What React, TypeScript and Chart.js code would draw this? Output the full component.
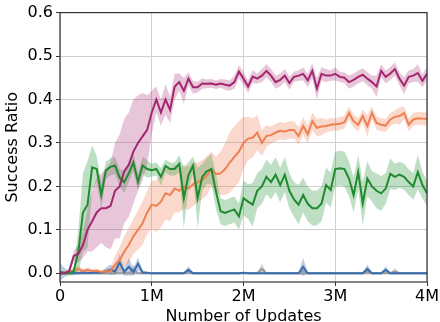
import React, { useEffect, useRef } from "react";
import { Chart, registerables } from "chart.js";

Chart.register(...registerables);

// x positions: number of updates (millions)
const updatesM = [
  0, 0.05, 0.1, 0.15, 0.2, 0.25, 0.3, 0.35, 0.4, 0.45,
  0.5, 0.55, 0.6, 0.65, 0.7, 0.75, 0.8, 0.85, 0.9, 0.95,
  1, 1.05, 1.1, 1.15, 1.2, 1.25, 1.3, 1.35, 1.4, 1.45,
  1.5, 1.55, 1.6, 1.65, 1.7, 1.75, 1.8, 1.85, 1.9, 1.95,
  2, 2.05, 2.1, 2.15, 2.2, 2.25, 2.3, 2.35, 2.4, 2.45,
  2.5, 2.55, 2.6, 2.65, 2.7, 2.75, 2.8, 2.85, 2.9, 2.95,
  3, 3.05, 3.1, 3.15, 3.2, 3.25, 3.3, 3.35, 3.4, 3.45,
  3.5, 3.55, 3.6, 3.65, 3.7, 3.75, 3.8, 3.85, 3.9, 3.95,
  4,
];

const magentaMean = [
  0, 0, 0.005, 0.04, 0.045, 0.065, 0.1, 0.12, 0.14, 0.15,
  0.15, 0.155, 0.19, 0.2, 0.235, 0.25, 0.28, 0.3, 0.315, 0.33,
  0.37, 0.4, 0.37, 0.4, 0.376, 0.43, 0.44, 0.42, 0.448, 0.428,
  0.428, 0.437, 0.436, 0.437, 0.434, 0.437, 0.434, 0.432, 0.44, 0.464,
  0.448, 0.43, 0.453, 0.448, 0.455, 0.466, 0.455, 0.44, 0.445, 0.455,
  0.438, 0.452, 0.455, 0.459, 0.444, 0.466, 0.425, 0.459, 0.455, 0.455,
  0.459, 0.452, 0.45, 0.44, 0.445, 0.452, 0.457, 0.448, 0.44, 0.43,
  0.466, 0.452, 0.46, 0.47, 0.448, 0.432, 0.452, 0.455, 0.461, 0.443,
  0.459,
];
const magentaSpread = [
  0.003, 0.003, 0.006, 0.012, 0.02, 0.03, 0.05, 0.07, 0.08, 0.08,
  0.09, 0.1, 0.11, 0.12, 0.12, 0.12, 0.12, 0.11, 0.1, 0.08,
  0.05, 0.03, 0.03, 0.035, 0.03, 0.03, 0.02, 0.03, 0.015, 0.015,
  0.012, 0.012, 0.01, 0.01, 0.01, 0.01, 0.012, 0.012, 0.015, 0.015,
  0.015, 0.015, 0.015, 0.012, 0.015, 0.015, 0.015, 0.015, 0.015, 0.015,
  0.015, 0.012, 0.012, 0.015, 0.015, 0.018, 0.025, 0.015, 0.015, 0.012,
  0.015, 0.012, 0.012, 0.015, 0.015, 0.015, 0.015, 0.015, 0.015, 0.025,
  0.015, 0.015, 0.015, 0.015, 0.015, 0.02, 0.015, 0.015, 0.02, 0.015,
  0.015,
];

const orangeMean = [
  0, 0.002, 0.003, 0.005, 0.01, 0.005, 0.008, 0.005, 0.006, 0.003,
  0.005, 0.005, 0.02, 0.03, 0.05, 0.065, 0.085, 0.1, 0.115, 0.14,
  0.158, 0.155, 0.165, 0.184, 0.18, 0.195, 0.19, 0.2, 0.195, 0.205,
  0.21, 0.215, 0.225, 0.24, 0.228, 0.23, 0.24, 0.255, 0.268, 0.28,
  0.3, 0.31, 0.312, 0.324, 0.3, 0.316, 0.318, 0.324, 0.328, 0.326,
  0.33, 0.33, 0.316, 0.339, 0.32, 0.35, 0.335, 0.338, 0.339, 0.342,
  0.343, 0.344, 0.348, 0.369, 0.35, 0.342, 0.362, 0.339, 0.369, 0.346,
  0.342, 0.34, 0.354, 0.36, 0.362, 0.369, 0.342, 0.354, 0.357, 0.356,
  0.355,
];
const orangeSpread = [
  0.002, 0.003, 0.004, 0.005, 0.008, 0.005, 0.006, 0.005, 0.005, 0.004,
  0.005, 0.006, 0.02, 0.03, 0.035, 0.04, 0.04, 0.045, 0.05, 0.05,
  0.055, 0.06, 0.06, 0.06, 0.06, 0.055, 0.05, 0.05, 0.05, 0.05,
  0.045, 0.045, 0.045, 0.04, 0.04, 0.05, 0.06, 0.07, 0.07, 0.07,
  0.06, 0.05, 0.045, 0.04, 0.03, 0.025, 0.02, 0.02, 0.02, 0.02,
  0.02, 0.02, 0.02, 0.02, 0.02, 0.02, 0.02, 0.02, 0.015, 0.015,
  0.015, 0.015, 0.015, 0.015, 0.015, 0.015, 0.015, 0.025, 0.015, 0.015,
  0.015, 0.015, 0.015, 0.015, 0.02, 0.015, 0.015, 0.015, 0.015, 0.015,
  0.015,
];

const greenMean = [
  0, 0, 0, 0.005, 0.05, 0.14, 0.158, 0.244, 0.24, 0.18,
  0.237, 0.245, 0.248, 0.22, 0.21, 0.23, 0.255, 0.21, 0.248, 0.24,
  0.237, 0.24, 0.222, 0.247, 0.24, 0.24, 0.252, 0.173, 0.226, 0.248,
  0.173, 0.222, 0.235, 0.24, 0.188, 0.143, 0.139, 0.143, 0.147, 0.131,
  0.173, 0.165, 0.158, 0.19, 0.2, 0.222, 0.21, 0.227, 0.203, 0.227,
  0.19, 0.17, 0.158, 0.18, 0.16, 0.15, 0.15, 0.16, 0.203, 0.192,
  0.24, 0.242, 0.24, 0.218, 0.18, 0.233, 0.161, 0.218, 0.2, 0.19,
  0.184, 0.195, 0.229, 0.222, 0.227, 0.222, 0.21, 0.2, 0.233, 0.203,
  0.184,
];
const greenSpread = [
  0.002, 0.002, 0.005, 0.01, 0.05, 0.09, 0.1, 0.05, 0.03, 0.03,
  0.02, 0.02, 0.02, 0.02, 0.025, 0.02, 0.02, 0.02, 0.02, 0.02,
  0.015, 0.015, 0.02, 0.015, 0.015, 0.015, 0.02, 0.07, 0.03, 0.02,
  0.07, 0.03, 0.03, 0.035, 0.04, 0.03, 0.03, 0.03, 0.03, 0.03,
  0.04, 0.04, 0.05, 0.04, 0.04, 0.04, 0.04, 0.04, 0.04, 0.04,
  0.04, 0.04, 0.045, 0.04, 0.04, 0.04, 0.04, 0.04, 0.04, 0.04,
  0.04, 0.04, 0.04, 0.04, 0.04, 0.04, 0.05, 0.04, 0.035, 0.04,
  0.04, 0.035, 0.035, 0.03, 0.03, 0.03, 0.03, 0.03, 0.04, 0.03,
  0.03,
];

const blueMean = [
  0.003, 0.002, 0.001, 0.001, 0, 0.002, 0.001, 0.001, 0.002, 0.001,
  0.005, 0.008, 0.004, 0.025, 0.003, 0.015, 0.003, 0.022, 0.002, 0.001,
  0, 0, 0, 0, 0, 0, 0, 0, 0.008, 0,
  0, 0, 0, 0, 0, 0, 0, 0, 0, 0,
  0.001, 0, 0, 0, 0, 0, 0, 0, 0, 0,
  0, 0, 0, 0.015, 0, 0, 0, 0, 0, 0,
  0, 0, 0, 0, 0, 0, 0, 0.01, 0, 0,
  0, 0.008, 0, 0, 0, 0, 0, 0, 0, 0,
  0,
];
const blueSpread = [
  0.02, 0.01, 0.005, 0.005, 0.003, 0.005, 0.004, 0.003, 0.004, 0.003,
  0.008, 0.012, 0.008, 0.02, 0.008, 0.02, 0.008, 0.015, 0.005, 0.003,
  0.002, 0.002, 0.002, 0.002, 0.002, 0.002, 0.002, 0.002, 0.008, 0.002,
  0.002, 0.002, 0.002, 0.002, 0.002, 0.002, 0.002, 0.002, 0.002, 0.002,
  0.002, 0.002, 0.002, 0.002, 0.002, 0.002, 0.002, 0.002, 0.002, 0.002,
  0.002, 0.002, 0.002, 0.02, 0.002, 0.002, 0.002, 0.002, 0.002, 0.002,
  0.002, 0.002, 0.002, 0.002, 0.002, 0.002, 0.002, 0.01, 0.002, 0.002,
  0.002, 0.008, 0.002, 0.002, 0.002, 0.002, 0.002, 0.002, 0.002, 0.002,
  0.002,
];

const grayMean = [
  0, 0, 0, 0, 0, 0, 0, 0, 0, 0,
  0, 0, 0, 0, 0, 0, 0.008, 0, 0, 0,
  0, 0, 0, 0, 0, 0, 0, 0, 0.004, 0,
  0, 0, 0, 0, 0, 0, 0, 0, 0, 0,
  0, 0, 0, 0, 0.01, 0, 0, 0, 0, 0,
  0, 0, 0, 0.005, 0, 0, 0, 0, 0, 0,
  0, 0, 0, 0, 0, 0, 0, 0.004, 0, 0,
  0, 0, 0, 0.004, 0, 0, 0, 0, 0, 0,
  0,
];
const graySpread = [
  0.002, 0.002, 0.002, 0.002, 0.002, 0.002, 0.002, 0.002, 0.002, 0.002,
  0.002, 0.002, 0.002, 0.002, 0.002, 0.002, 0.012, 0.002, 0.002, 0.002,
  0.002, 0.002, 0.002, 0.002, 0.002, 0.002, 0.002, 0.002, 0.008, 0.002,
  0.002, 0.002, 0.002, 0.002, 0.002, 0.002, 0.002, 0.002, 0.002, 0.002,
  0.002, 0.002, 0.002, 0.002, 0.012, 0.002, 0.002, 0.002, 0.002, 0.002,
  0.002, 0.002, 0.002, 0.01, 0.002, 0.002, 0.002, 0.002, 0.002, 0.002,
  0.002, 0.002, 0.002, 0.002, 0.002, 0.002, 0.002, 0.008, 0.002, 0.002,
  0.002, 0.002, 0.002, 0.008, 0.002, 0.002, 0.002, 0.002, 0.002, 0.002,
  0.002,
];

const yTicks = [0, 0.1, 0.2, 0.3, 0.4, 0.5, 0.6];
const xTicks = [0, 1, 2, 3, 4];
const xTickLabels = ["0", "1M", "2M", "3M", "4M"];

type S = { mean: number[]; spread: number[]; line: string; fill: string };
const series: S[] = [
  { mean: magentaMean, spread: magentaSpread, line: "#a3276f", fill: "rgba(168,50,120,0.28)" },
  { mean: greenMean, spread: greenSpread, line: "#1f8a2e", fill: "rgba(40,150,55,0.3)" },
  { mean: orangeMean, spread: orangeSpread, line: "#f07f52", fill: "rgba(240,130,85,0.3)" },
  { mean: blueMean, spread: blueSpread, line: "#3a6ead", fill: "rgba(60,110,175,0.35)" },
  { mean: grayMean, spread: graySpread, line: "#9a9a9a", fill: "rgba(140,140,140,0.35)" },
];

const FONT = "'DejaVu Sans', sans-serif";

export default function App() {
  const ref = useRef<HTMLCanvasElement | null>(null);
  useEffect(() => {
    document.body.style.margin = "0";
    const canvas = ref.current!;
    const lines: any[] = [];
    const bands: any[] = [];
    series.forEach((s) => {
      lines.push({
        data: s.mean.map((v, i) => ({ x: updatesM[i], y: v })),
        borderColor: s.line,
        borderWidth: 2,
        pointRadius: 0,
        fill: false,
        tension: 0,
      });
    });
    series.forEach((s) => {
      bands.push({
        data: s.mean.map((v, i) => ({ x: updatesM[i], y: v + s.spread[i] })),
        borderWidth: 0,
        borderColor: "rgba(0,0,0,0)",
        backgroundColor: s.fill,
        pointRadius: 0,
        fill: "+1",
        tension: 0,
      });
      bands.push({
        data: s.mean.map((v, i) => ({ x: updatesM[i], y: v - s.spread[i] })),
        borderWidth: 0,
        borderColor: "rgba(0,0,0,0)",
        pointRadius: 0,
        fill: false,
        tension: 0,
      });
    });
    const frame = {
      id: "frame",
      afterDatasetsDraw(chart: any) {
        const { ctx, chartArea: a } = chart;
        ctx.save();
        ctx.strokeStyle = "#333";
        ctx.lineWidth = 1.2;
        ctx.strokeRect(a.left, a.top, a.right - a.left, a.bottom - a.top);
        ctx.restore();
      },
    };
    const chart = new Chart(canvas, {
      type: "line",
      data: { datasets: [...lines, ...bands] },
      options: {
        animation: false,
        responsive: false,
        maintainAspectRatio: false,
        layout: { padding: { top: 8, right: 11, left: 0, bottom: 0 } },
        plugins: { legend: { display: false }, tooltip: { enabled: false } },
        scales: {
          x: {
            type: "linear",
            min: 0,
            max: 4,
            afterBuildTicks: (sc: any) => {
              sc.ticks = xTicks.map((v) => ({ value: v }));
            },
            afterFit: (sc: any) => {
              sc.height = 40;
            },
            ticks: {
              color: "#000",
              font: { family: FONT, size: 16 },
              padding: 1,
              maxRotation: 0,
              callback: (v: any) => xTickLabels[xTicks.indexOf(Number(v))] ?? "",
            },
            grid: { color: "#cfcfcf", lineWidth: 1, tickColor: "#333", tickLength: 4 },
            border: { display: false },
            title: {
              display: true,
              text: "Number of Updates",
              color: "#000",
              font: { family: FONT, size: 16, lineHeight: 0.7 },
              padding: { top: 0, bottom: 0 },
            },
          },
          y: {
            type: "linear",
            min: -0.02,
            max: 0.6,
            afterBuildTicks: (sc: any) => {
              sc.ticks = yTicks.map((v) => ({ value: v }));
            },
            afterFit: (sc: any) => {
              sc.width = 60;
            },
            ticks: {
              color: "#000",
              font: { family: FONT, size: 16 },
              padding: 3,
              callback: (v: any) => Number(v).toFixed(1),
            },
            grid: { color: "#cfcfcf", lineWidth: 1, tickColor: "#333", tickLength: 4 },
            border: { display: false },
            title: {
              display: true,
              text: "Success Ratio",
              color: "#000",
              font: { family: FONT, size: 16, lineHeight: 1 },
              padding: { top: 5, bottom: 0 },
            },
          },
        },
      },
      plugins: [frame],
    } as any);
    return () => chart.destroy();
  }, []);
  return <canvas ref={ref} width={440} height={322} style={{ display: "block" }} />;
}
